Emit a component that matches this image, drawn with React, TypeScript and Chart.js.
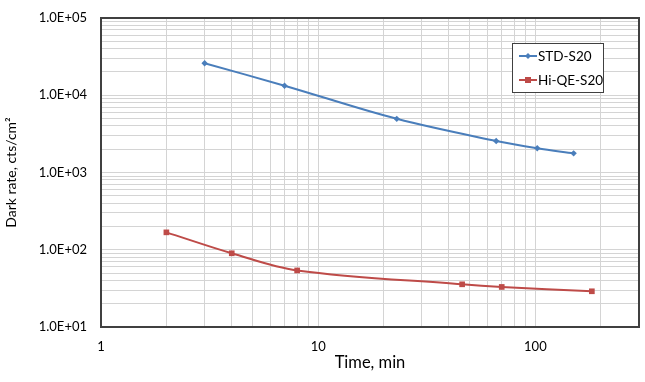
import React, { useEffect, useRef } from "react";
import { Chart, registerables } from "chart.js";

Chart.register(...registerables);

const stdLabel = "STD-S20";
const stdTime = [3, 7, 23, 66, 102, 150];
const stdRate = [26000, 13300, 4950, 2560, 2060, 1770];

const hiLabel = "Hi-QE-S20";
const hiTime = [2, 4, 8, 46, 70, 182];
const hiRate = [168, 90, 54, 35.7, 33, 29];

const xMin = 1;
const xMax = 300;
const yMin = 10;
const yMax = 100000;
const xTickLabels: Record<number, string> = { 1: "1", 10: "10", 100: "100" };
const yTickLabels: Record<number, string> = {
  10: "1.0E+01",
  100: "1.0E+02",
  1000: "1.0E+03",
  10000: "1.0E+04",
  100000: "1.0E+05",
};
const xTitle = "Time, min";
const yTitle = "Dark rate, cts/cm²";

const FONT = "Lato, 'Liberation Sans', sans-serif";
const BLUE = "#4a7ebb";
const RED = "#be4b48";
const GRID = "#d4d4d4";
const FRAME = "#404040";

function logTicks(min: number, max: number) {
  const ticks: { value: number }[] = [];
  for (let d = Math.pow(10, Math.floor(Math.log10(min))); d <= max; d *= 10) {
    for (let m = 1; m <= 9; m++) {
      const v = Math.round(m * d * 1000) / 1000;
      if (v >= min - 1e-9 && v <= max + 1e-9) ticks.push({ value: v });
    }
  }
  return ticks;
}

const framePlugin = {
  id: "frameAndLegend",
  afterDraw(chart: any) {
    const { ctx, chartArea } = chart;
    ctx.save();
    ctx.strokeStyle = FRAME;
    ctx.lineWidth = 2;
    ctx.strokeRect(chartArea.left, chartArea.top, chartArea.right - chartArea.left, chartArea.bottom - chartArea.top);

    // legend box
    const bx = chartArea.right - 127;
    const by = chartArea.top + 25;
    const bw = 91;
    const bh = 49;
    ctx.fillStyle = "#ffffff";
    ctx.fillRect(bx, by, bw, bh);
    ctx.strokeStyle = FRAME;
    ctx.lineWidth = 1;
    ctx.strokeRect(bx + 0.5, by + 0.5, bw, bh);
    const rows = [by + 13, by + 37];
    chart.data.datasets.forEach((ds: any, i: number) => {
      const y = rows[i];
      ctx.strokeStyle = ds.borderColor;
      ctx.lineWidth = 2;
      ctx.beginPath();
      ctx.moveTo(bx + 7, y);
      ctx.lineTo(bx + 25, y);
      ctx.stroke();
      ctx.fillStyle = ds.borderColor;
      const cx = bx + 16;
      if (ds.pointStyle === "rect") {
        ctx.fillRect(cx - 3, y - 3, 6, 6);
      } else {
        ctx.beginPath();
        ctx.moveTo(cx, y - 3);
        ctx.lineTo(cx + 3, y);
        ctx.lineTo(cx, y + 3);
        ctx.lineTo(cx - 3, y);
        ctx.closePath();
        ctx.fill();
      }
      ctx.fillStyle = "#000000";
      ctx.font = `13.5px ${FONT}`;
      ctx.textBaseline = "middle";
      ctx.textAlign = "left";
      ctx.fillText(ds.label, bx + 26, y + 1);
    });
    ctx.restore();
  },
};

export default function App() {
  const ref = useRef<HTMLCanvasElement | null>(null);

  useEffect(() => {
    if (!ref.current) return;
    const chart = new Chart(ref.current, {
      type: "scatter",
      data: {
        datasets: [
          {
            label: stdLabel,
            data: stdTime.map((t, i) => ({ x: t, y: stdRate[i] })),
            showLine: true,
            borderColor: BLUE,
            backgroundColor: BLUE,
            borderWidth: 2,
            pointStyle: "rectRot",
            pointRadius: 3.2,
            pointBorderWidth: 0,
            tension: 0.35,
          },
          {
            label: hiLabel,
            data: hiTime.map((t, i) => ({ x: t, y: hiRate[i] })),
            showLine: true,
            borderColor: RED,
            backgroundColor: RED,
            borderWidth: 2,
            pointStyle: "rect",
            pointRadius: 4,
            pointBorderWidth: 0,
            tension: 0.35,
          },
        ],
      },
      options: {
        animation: false,
        responsive: false,
        maintainAspectRatio: false,
        layout: { padding: { top: 18, right: 6, left: 0, bottom: 0 } },
        plugins: {
          legend: { display: false },
          tooltip: { enabled: false },
        },
        scales: {
          x: {
            type: "logarithmic",
            min: xMin,
            max: xMax,
            afterBuildTicks: (s: any) => {
              s.ticks = logTicks(xMin, xMax);
            },
            afterFit: (s: any) => {
              s.height = 55;
              s.paddingLeft = 0;
              s.paddingRight = 0;
            },
            border: { display: false },
            grid: { color: GRID, lineWidth: 1, drawTicks: false },
            ticks: {
              autoSkip: false,
              maxRotation: 0,
              padding: 12,
              color: "#000",
              font: { family: FONT, size: 13 },
              callback: (v: any) => xTickLabels[Number(v)] ?? "",
            },
            title: {
              display: true,
              text: xTitle,
              color: "#000",
              font: { family: FONT, size: 16.5 },
              padding: { top: 0, bottom: 9 },
            },
          },
          y: {
            type: "logarithmic",
            min: yMin,
            max: yMax,
            afterBuildTicks: (s: any) => {
              s.ticks = logTicks(yMin, yMax);
            },
            afterFit: (s: any) => {
              s.width = 101;
              s.paddingTop = 0;
              s.paddingBottom = 0;
            },
            border: { display: false },
            grid: { color: GRID, lineWidth: 1, drawTicks: false },
            ticks: {
              autoSkip: false,
              padding: 14,
              color: "#000",
              font: { family: FONT, size: 13 },
              callback: (v: any) => yTickLabels[Number(v)] ?? "",
            },
            title: {
              display: true,
              text: yTitle,
              color: "#000",
              font: { family: FONT, size: 14 },
              padding: { top: 3, bottom: 0 },
            },
          },
        },
      },
      plugins: [framePlugin],
    });
    return () => chart.destroy();
  }, []);

  return (
    <div style={{ position: "fixed", left: 0, top: 0, width: 645, height: 382, background: "#fff" }}>
      <canvas ref={ref} width={645} height={382} style={{ width: 645, height: 382, display: "block" }} />
    </div>
  );
}
